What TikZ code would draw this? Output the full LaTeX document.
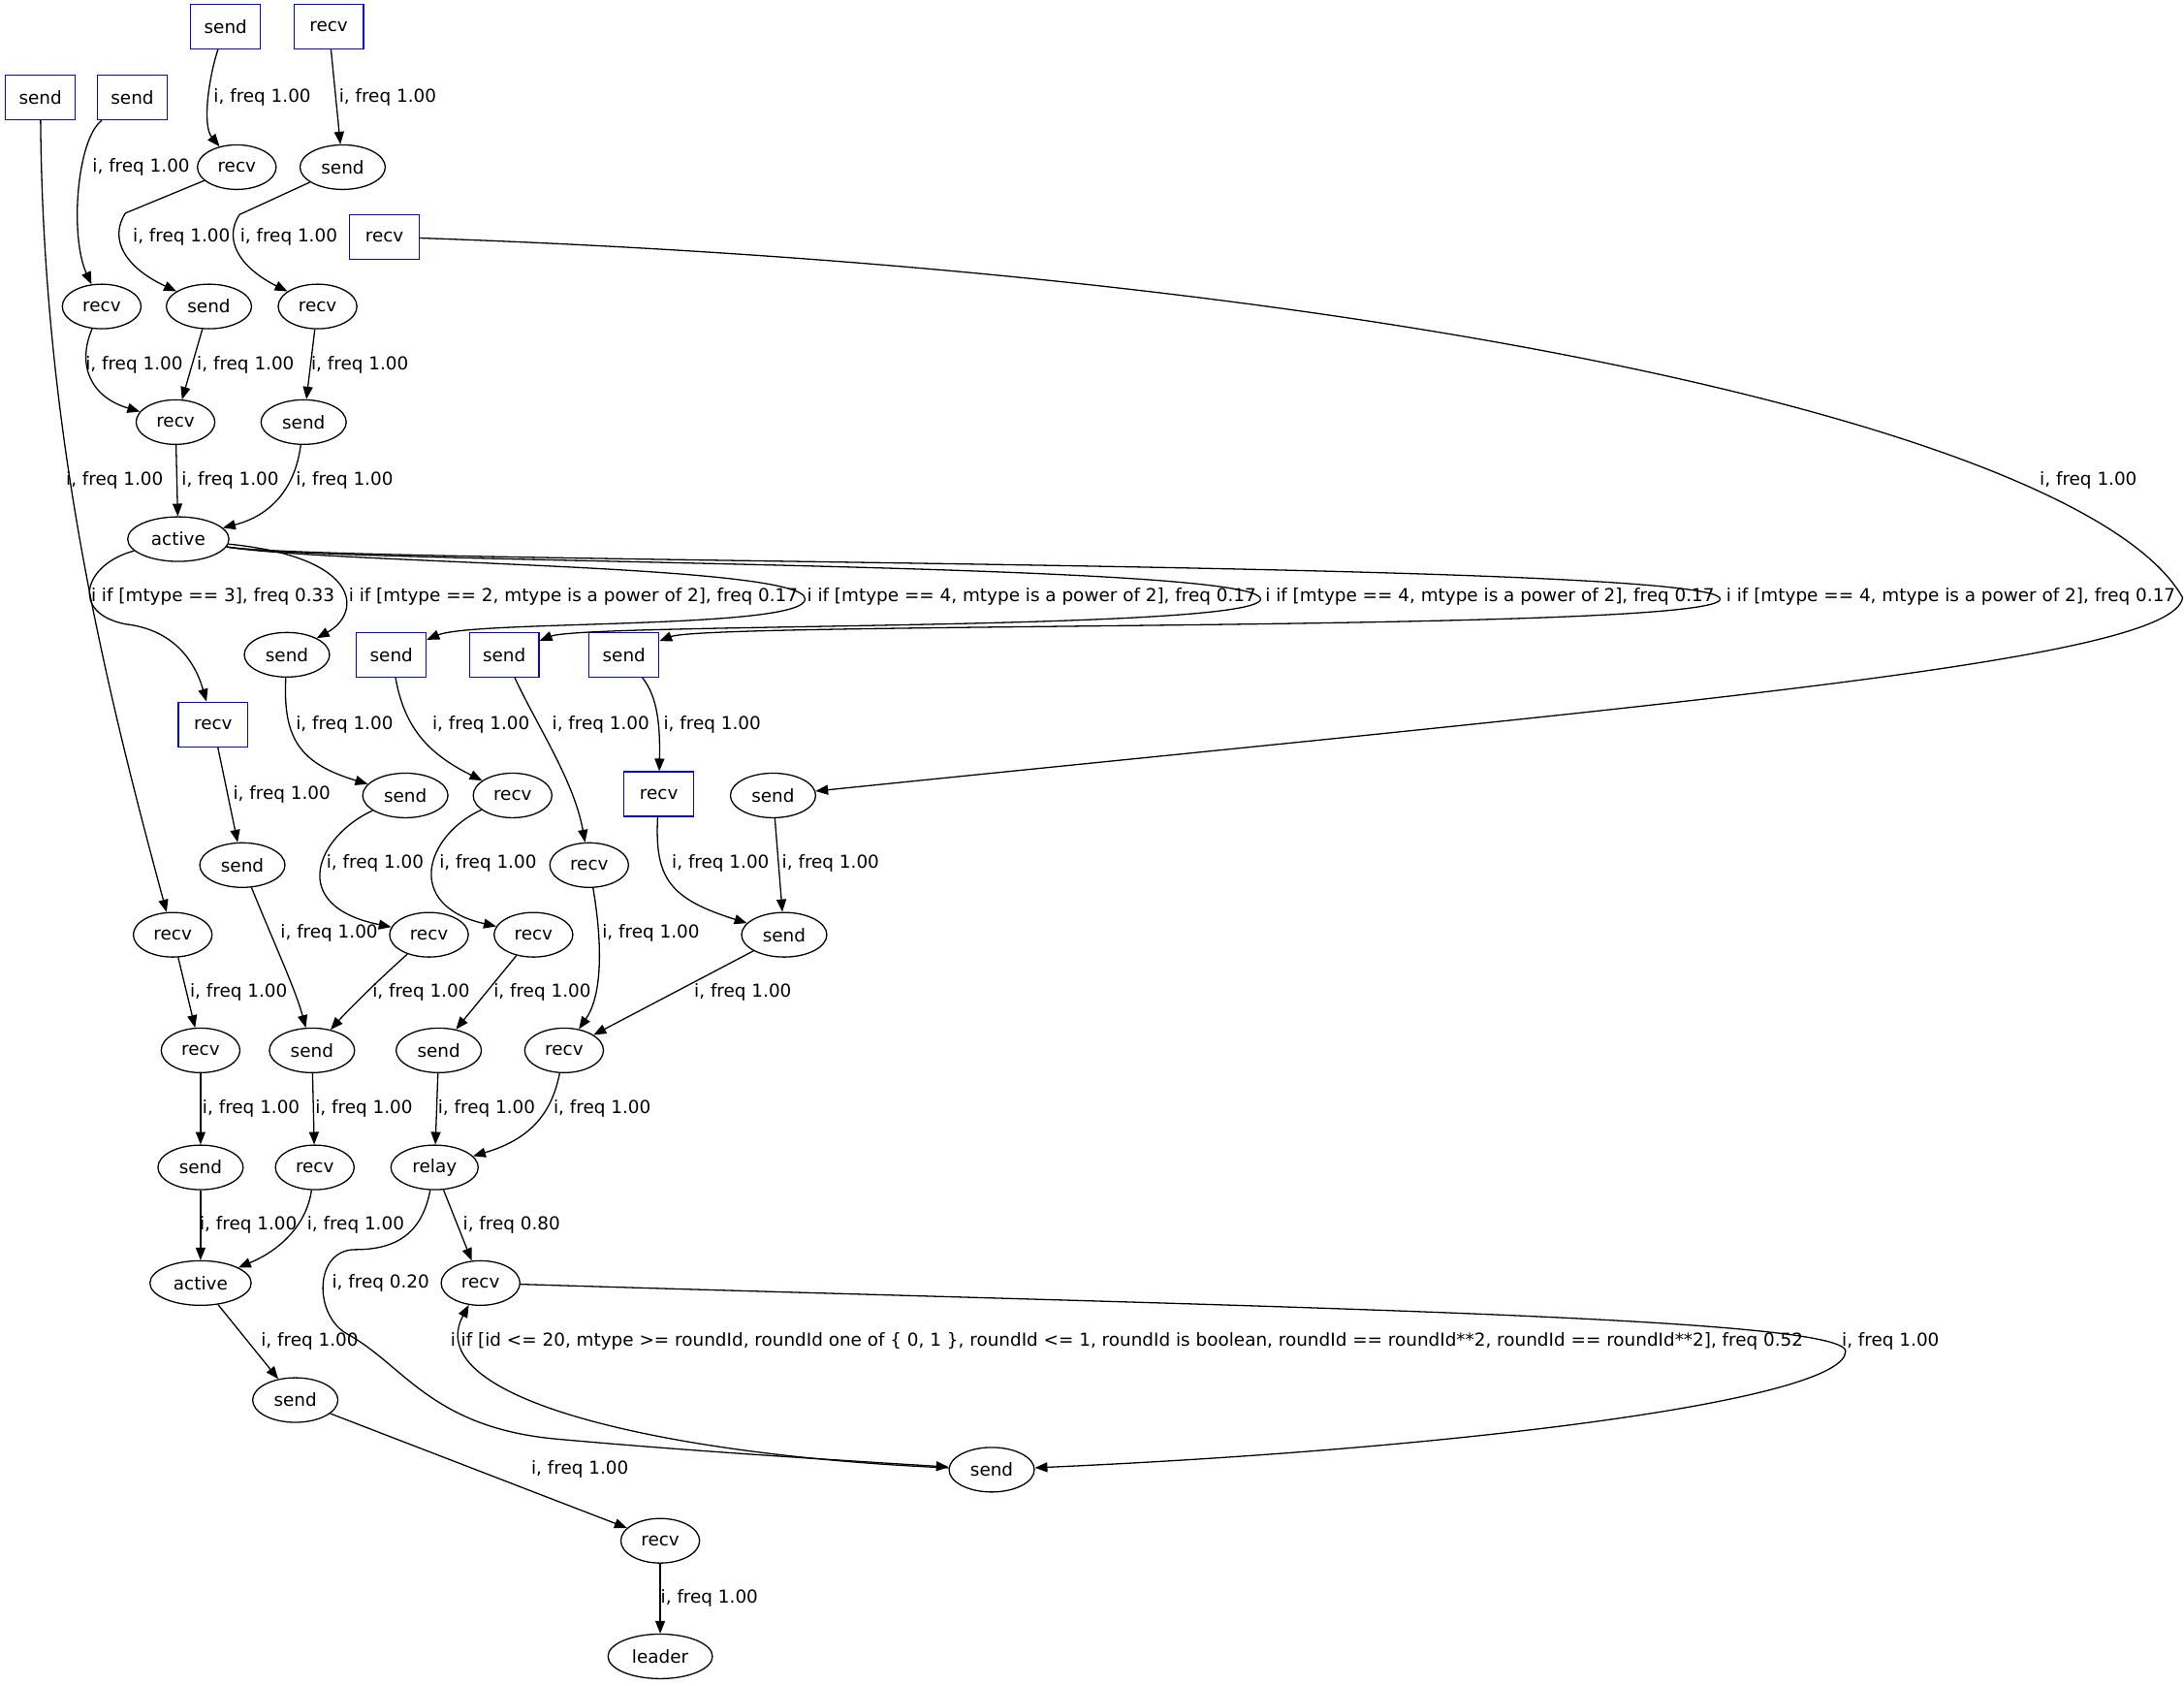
\documentclass[tikz,border=0pt]{standalone}
\usepackage{fontspec}
\setmainfont{DejaVu Sans}
\usetikzlibrary{arrows.meta, shapes.geometric}

\begin{document}
\begin{tikzpicture}[x=1pt, y=-1pt,
		font=\fontsize{12.8pt}{15pt}\selectfont,
		state/.style={ellipse, draw, line width=0.9pt, minimum height=32pt, inner xsep=6.25pt, inner ysep=1pt},
		port/.style={rectangle, draw=blue, line width=0.9pt, minimum width=50pt, minimum height=32pt, inner sep=0pt},
		trans/.style={line width=0.9pt, -{Triangle[length=9pt, width=7pt]}},
		lbl/.style={anchor=west, inner sep=0pt}]

		\useasboundingbox (0,0) rectangle (1568,1210);

		% ports
		\node[port] (ps1) at (162,19) {send};
		\node[port] (pr1) at (236,19) {recv};
		\node[port] (ps2) at (29,70) {send};
		\node[port] (ps3) at (95,70) {send};
		\node[port] (pr2) at (276,170) {recv};
		\node[port] (pr3) at (153,520) {recv};
		\node[port] (ps4) at (281,470) {send};
		\node[port] (ps5) at (362,470) {send};
		\node[port] (ps6) at (448,470) {send};
		\node[port] (pr4) at (473,570) {recv};

		% states
		\node[state] (r1) at (170,120) {recv};
		\node[state] (s1) at (246,120) {send};
		\node[state] (r2) at (73,220) {recv};
		\node[state] (s2) at (150,220) {send};
		\node[state] (r3) at (228,220) {recv};
		\node[state] (r4) at (126,303) {recv};
		\node[state] (s3) at (218,303) {send};
		\node[state] (a1) at (128,387) {active};
		\node[state] (s5) at (206,470) {send};
		\node[state] (s6) at (291,571) {send};
		\node[state] (r6) at (368,571) {recv};
		\node[state] (s4) at (555,571) {send};
		\node[state] (s7) at (174,621) {send};
		\node[state] (r7) at (423,621) {recv};
		\node[state] (r5) at (124,671) {recv};
		\node[state] (r8) at (308,671) {recv};
		\node[state] (r9) at (383,671) {recv};
		\node[state] (s8) at (563,671) {send};
		\node[state] (r11) at (144,754) {recv};
		\node[state] (s9) at (224,754) {send};
		\node[state] (s10) at (315,754) {send};
		\node[state] (r10) at (405,754) {recv};
		\node[state] (s11) at (144,838) {send};
		\node[state] (r12) at (226,838) {recv};
		\node[state] (relay) at (312,838) {relay};
		\node[state] (a2) at (144,921) {active};
		\node[state] (r13) at (345,921) {recv};
		\node[state] (s13) at (212,1005) {send};
		\node[state] (s12) at (712,1055) {send};
		\node[state] (r14) at (474,1106) {recv};
		\node[state] (leader) at (474,1189) {leader};

		% transitions
		\draw[trans] (ps1) .. controls (150,55) and (145,90) .. (r1) node[lbl] (l1) at (153,70) {i, freq 1.00};
		\draw[trans] (pr1) -- (s1) node[lbl] (l2) at (243,70) {i, freq 1.00};
		\draw[trans] (ps3) .. controls (55,100) and (50,170) .. (r2) node[lbl] (l3) at (66,120) {i, freq 1.00};
		\draw[trans] (r1) -- (90,153) .. controls (78,172) and (90,192) .. (s2) node[lbl] (l4) at (95,170) {i, freq 1.00};
		\draw[trans] (s1) -- (172,154) .. controls (160,172) and (172,192) .. (r3) node[lbl] (l5) at (172,170) {i, freq 1.00};
		\draw[trans] (r2) .. controls (55,262) and (65,285) .. (r4) node[lbl] (l6) at (61,262) {i, freq 1.00};
		\draw[trans] (s2) -- (r4) node[lbl] (l7) at (141,262) {i, freq 1.00};
		\draw[trans] (r3) -- (s3) node[lbl] (l8) at (223,262) {i, freq 1.00};
		\draw[trans] (r4) -- (a1) node[lbl] (l9) at (130,345) {i, freq 1.00};
		\draw[trans] (s3) .. controls (212,350) and (195,370) .. (a1) node[lbl] (l10) at (212,345) {i, freq 1.00};
		\draw[trans] (ps2) .. controls (31,310) and (75,490) .. (r5) node[lbl] (l11) at (47,345) {i, freq 1.00};
		\draw[trans] (pr2) .. controls (1000,195) and (1500,310) .. (1567,429) .. controls (1560,475) and (1200,505) .. (s4) node[lbl] (l12) at (1464,345) {i, freq 1.00};

		\draw[trans] (a1) .. controls (60,405) and (50,440) .. (90,448) .. controls (125,452) and (140,475) .. (pr3) node[lbl] (l13) at (65,428) {i if [mtype == 3], freq 0.33};
		\draw[trans] (a1) .. controls (260,400) and (260,440) .. (s5) node[lbl] (l14) at (250,428) {i if [mtype == 2, mtype is a power of 2], freq 0.17};
		\draw[trans] (a1) .. controls (240,405) and (578,405) .. (578,430) .. controls (578,452) and (340,445) .. (ps4) node[lbl] (l15) at (579,428) {i if [mtype == 4, mtype is a power of 2], freq 0.17};
		\draw[trans] (a1) .. controls (240,405) and (905,403) .. (905,430) .. controls (905,453) and (420,447) .. (ps5) node[lbl] (l16) at (908,428) {i if [mtype == 4, mtype is a power of 2], freq 0.17};
		\draw[trans] (a1) .. controls (240,405) and (1235,402) .. (1235,430) .. controls (1235,454) and (510,446) .. (ps6) node[lbl] (l17) at (1239,428) {i if [mtype == 4, mtype is a power of 2], freq 0.17};

		\draw[trans] (s5) .. controls (203,530) and (215,548) .. (s6) node[lbl] (l18) at (212,520) {i, freq 1.00};
		\draw[trans] (ps4) .. controls (290,520) and (305,540) .. (r6) node[lbl] (l19) at (310,520) {i, freq 1.00};
		\draw[trans] (ps5) .. controls (385,520) and (412,560) .. (r7) node[lbl] (l20) at (396,520) {i, freq 1.00};
		\draw[trans] (ps6) .. controls (472,500) and (474,520) .. (pr4) node[lbl] (l21) at (476,520) {i, freq 1.00};
		\draw[trans] (pr3) -- (s7) node[lbl] (l22) at (167,570) {i, freq 1.00};
		\draw[trans] (s6) .. controls (228,600) and (205,650) .. (r8) node[lbl] (l23) at (234,620) {i, freq 1.00};
		\draw[trans] (r6) .. controls (305,600) and (290,650) .. (r9) node[lbl] (l24) at (315,620) {i, freq 1.00};
		\draw[trans] (pr4) .. controls (470,630) and (480,645) .. (s8) node[lbl] (l25) at (482,620) {i, freq 1.00};
		\draw[trans] (s4) -- (s8) node[lbl] (l26) at (561,620) {i, freq 1.00};
		\draw[trans] (s7) .. controls (198,680) and (212,710) .. (s9) node[lbl] (l27) at (201,670) {i, freq 1.00};
		\draw[trans] (r7) .. controls (433,680) and (432,715) .. (r10) node[lbl] (l28) at (432,670) {i, freq 1.00};
		\draw[trans] (r5) -- (r11) node[lbl] (l29) at (136,712) {i, freq 1.00};
		\draw[trans] (r8) .. controls (270,705) and (250,725) .. (s9) node[lbl] (l30) at (267,712) {i, freq 1.00};
		\draw[trans] (r9) -- (s10) node[lbl] (l31) at (354,712) {i, freq 1.00};
		\draw[trans] (s8) -- (r10) node[lbl] (l32) at (498,712) {i, freq 1.00};
		\draw[trans] (r11) -- (s11) node[lbl] (l33) at (145,796) {i, freq 1.00};
		\draw[trans] (s9) -- (r12) node[lbl] (l34) at (226,796) {i, freq 1.00};
		\draw[trans] (s10) -- (relay) node[lbl] (l35) at (314,796) {i, freq 1.00};
		\draw[trans] (r10) .. controls (396,800) and (380,818) .. (relay) node[lbl] (l36) at (397,796) {i, freq 1.00};
		\draw[trans] (s11) -- (a2) node[lbl] (l37) at (143,879) {i, freq 1.00};
		\draw[trans] (r12) .. controls (220,880) and (200,898) .. (a2) node[lbl] (l38) at (220,879) {i, freq 1.00};
		\draw[trans] (relay) -- (r13) node[lbl] (l39) at (332,879) {i, freq 0.80};
		\draw[trans] (relay) .. controls (303,885) and (285,897) .. (255,897) .. controls (225,897) and (225,945) .. (250,958) .. controls (290,980) and (310,1025) .. (400,1033) .. controls (500,1042) and (600,1048) .. (s12) node[lbl] (l40) at (238,921) {i, freq 0.20};
		\draw[trans] (r13) .. controls (900,938) and (1325,945) .. (1325,970) .. controls (1325,1005) and (1050,1040) .. (s12) node[lbl] (l41) at (1322,963) {i, freq 1.00};
		\draw[trans] (s12) .. controls (480,1045) and (300,1005) .. (r13) node[lbl] (l42) at (323,963) {i if [id <= 20, mtype >= roundId, roundId one of \{ 0, 1 \}, roundId <= 1, roundId is boolean, roundId == roundId**2, roundId == roundId**2], freq 0.52};
		\draw[trans] (a2) -- (s13) node[lbl] (l43) at (187,963) {i, freq 1.00};
		\draw[trans] (s13) -- (r14) node[lbl] (l44) at (381,1055) {i, freq 1.00};
		\draw[trans] (r14) -- (leader) node[lbl] (l45) at (474,1147) {i, freq 1.00};
	\end{tikzpicture}
\end{document}
